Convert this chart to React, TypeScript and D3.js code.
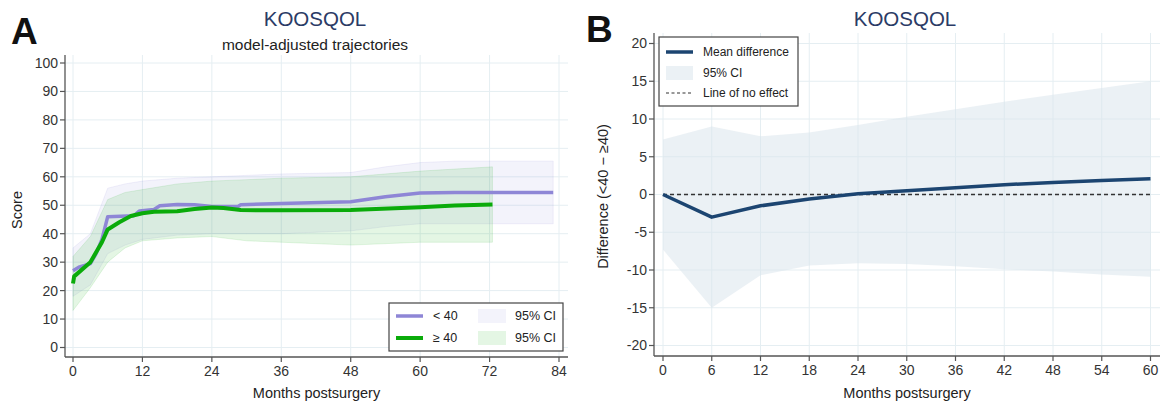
import React from "react";
import * as d3 from "d3";

// Panel A: model-adjusted trajectories
const ltMonths = [0, 1, 3, 4, 5, 6, 10.5, 11.5, 14, 15, 18, 21, 24, 28.5, 29, 36, 48, 54, 60, 66, 83];
const ltScore = [27, 28.2, 29.5, 33, 38, 46, 46.3, 48, 48.5, 49.8, 50.3, 50.2, 49.6, 49.6, 50.2, 50.6, 51.2, 53, 54.3, 54.5, 54.5];
const geMonths = [0, 0.2, 3, 5, 6, 8, 10, 12, 14, 18, 21, 24, 26, 29, 36, 48, 60, 66, 72.5];
const geScore = [22.5, 25, 30, 37, 41.5, 44, 46.2, 47.2, 47.7, 47.9, 48.7, 49.2, 49, 48.3, 48.2, 48.3, 49.3, 49.9, 50.3];

const ltCiMonths = [0, 3, 6, 9, 12, 18, 24, 30, 36, 48, 54, 60, 66, 83];
const ltCiHigh = [35, 40, 56, 57.5, 58.5, 59.5, 60, 60.5, 61, 61.5, 63.5, 65, 65.5, 65.5];
const ltCiLow = [18, 22, 33, 36, 38, 39.5, 40, 40, 40, 41, 42.5, 43.5, 43.5, 43.5];
const geCiMonths = [0, 3, 6, 9, 12, 18, 24, 30, 36, 48, 60, 72.5];
const geCiHigh = [32, 39, 52, 54.5, 55.5, 57.5, 58.5, 59, 59.5, 60, 62, 63.5];
const geCiLow = [13, 21, 30, 35, 37.5, 38.5, 39, 37.5, 37, 36, 37, 37];

const xTicksA = [0, 12, 24, 36, 48, 60, 72, 84];
const yTicksA = [0, 10, 20, 30, 40, 50, 60, 70, 80, 90, 100];

// Panel B: difference (<40 - >=40)
const diffMonths = [0, 6, 12, 18, 24, 30, 36, 42, 48, 54, 60];
const diffMean = [0, -3, -1.5, -0.6, 0.1, 0.5, 0.9, 1.3, 1.6, 1.85, 2.1];
const diffHigh = [7.3, 9, 7.7, 8.2, 9.2, 10.3, 11.3, 12.3, 13.2, 14.1, 15];
const diffLow = [-7.3, -15, -10.7, -9.4, -9.1, -9.2, -9.5, -9.9, -10.2, -10.6, -10.9];

const xTicksB = [0, 6, 12, 18, 24, 30, 36, 42, 48, 54, 60];
const yTicksB = [20, 15, 10, 5, 0, -5, -10, -15, -20];

const FONT = "'Liberation Sans', Arial, sans-serif";
const GRID = "#e5eef2";
const AXIS = "#555";
const PURPLE = "#8e86d6";
const GREEN = "#0aab0a";
const NAVY = "#1c4571";
const TITLE = "#2b3b66";

const zip = (xs: number[], ys: number[]) => xs.map((x, i) => [x, ys[i]] as [number, number]);
const zip3 = (xs: number[], lo: number[], hi: number[]) => xs.map((x, i) => ({ x, lo: lo[i], hi: hi[i] }));

function Grid({ x, y, xTicks, yTicks, left, top, right, bottom }: any) {
  return (
    <g>
      {yTicks.map((t: number) => (
        <line key={"gy" + t} x1={left} x2={right} y1={y(t)} y2={y(t)} stroke={GRID} strokeWidth={1} />
      ))}
      {xTicks.map((t: number) => (
        <line key={"gx" + t} x1={x(t)} x2={x(t)} y1={top} y2={bottom} stroke={GRID} strokeWidth={1} />
      ))}
    </g>
  );
}

function AxisLines({ x, y, xTicks, yTicks, left, top, right, bottom, fmt }: any) {
  return (
    <g fontFamily={FONT} fontSize={14} fill="#333">
      <line x1={left} x2={left} y1={top} y2={bottom} stroke={AXIS} strokeWidth={1.3} />
      <line x1={left} x2={right} y1={bottom} y2={bottom} stroke={AXIS} strokeWidth={1.3} />
      {yTicks.map((t: number) => (
        <g key={"ty" + t}>
          <line x1={left - 5} x2={left} y1={y(t)} y2={y(t)} stroke={AXIS} strokeWidth={1.2} />
          <text x={left - 7} y={y(t)} dy="0.35em" textAnchor="end">{fmt(t)}</text>
        </g>
      ))}
      {xTicks.map((t: number) => (
        <g key={"tx" + t}>
          <line x1={x(t)} x2={x(t)} y1={bottom} y2={bottom + 5} stroke={AXIS} strokeWidth={1.2} />
          <text x={x(t)} y={bottom + 19} textAnchor="middle">{t}</text>
        </g>
      ))}
    </g>
  );
}

export default function App() {
  // panel A geometry
  const aL = 65, aT = 55, aR = 568, aB = 357;
  const xA = d3.scaleLinear().domain([0, 84]).range([73, 559]);
  const yA = d3.scaleLinear().domain([0, 100]).range([347.5, 63]);

  // panel B geometry
  const bL = 654, bT = 33, bR = 1160, bB = 356;
  const xB = d3.scaleLinear().domain([0, 60]).range([663, 1150.5]);
  const yB = d3.scaleLinear().domain([-20, 20]).range([345.5, 43.5]);

  const lineA = d3.line<[number, number]>().x((d) => xA(d[0])).y((d) => yA(d[1]));
  const areaA = d3
    .area<{ x: number; lo: number; hi: number }>()
    .x((d) => xA(d.x))
    .y0((d) => yA(d.lo))
    .y1((d) => yA(d.hi));
  const lineB = d3.line<[number, number]>().x((d) => xB(d[0])).y((d) => yB(d[1]));
  const areaB = d3
    .area<{ x: number; lo: number; hi: number }>()
    .x((d) => xB(d.x))
    .y0((d) => yB(d.lo))
    .y1((d) => yB(d.hi));

  const fmtB = (t: number) => (t < 0 ? "-" + Math.abs(t) : String(t));

  return (
    <svg
      width={1163}
      height={407}
      style={{ position: "absolute", left: 0, top: 0, background: "#fff" }}
      fontFamily={FONT}
    >
      <rect width={1163} height={407} fill="#fff" />

      {/* ---------- Panel A ---------- */}
      <text x={11} y={44} fontSize={37} fontWeight="bold" fill="#111">A</text>
      <text x={315} y={26} fontSize={20.5} fill={TITLE} textAnchor="middle">KOOSQOL</text>
      <text x={315} y={50} fontSize={15.5} fill="#222" textAnchor="middle">model-adjusted trajectories</text>

      <Grid x={xA} y={yA} xTicks={xTicksA} yTicks={yTicksA} left={aL} top={aT} right={aR} bottom={aB} />

      <path d={areaA(zip3(ltCiMonths, ltCiLow, ltCiHigh)) || ""} fill={PURPLE} fillOpacity={0.1} stroke={PURPLE} strokeOpacity={0.12} />
      <path d={areaA(zip3(geCiMonths, geCiLow, geCiHigh)) || ""} fill={GREEN} fillOpacity={0.11} stroke={GREEN} strokeOpacity={0.1} />
      <path d={lineA(zip(ltMonths, ltScore)) || ""} fill="none" stroke={PURPLE} strokeWidth={3.5} strokeLinejoin="round" />
      <path d={lineA(zip(geMonths, geScore)) || ""} fill="none" stroke={GREEN} strokeWidth={4} strokeLinejoin="round" />

      <AxisLines x={xA} y={yA} xTicks={xTicksA} yTicks={yTicksA} left={aL} top={aT} right={aR} bottom={aB} fmt={String} />

      <text
        transform={`translate(22,${(aT + aB) / 2 + 4}) rotate(-90)`}
        textAnchor="middle"
        fontSize={14.5}
        fill="#222"
      >
        Score
      </text>
      <text x={(aL + aR) / 2} y={398} textAnchor="middle" fontSize={14.5} fill="#222">Months postsurgery</text>

      {/* legend A */}
      <g fontSize={12.5} fill="#222">
        <rect x={389} y={303} width={174} height={48} fill="#fff" stroke="#444" strokeWidth={1.2} />
        <line x1={396} x2={423} y1={316} y2={316} stroke={PURPLE} strokeWidth={3.5} />
        <text x={433} y={316} dy="0.35em">{"< 40"}</text>
        <rect x={478} y={309} width={28} height={14} fill={PURPLE} fillOpacity={0.1} />
        <text x={515} y={316} dy="0.35em">95% CI</text>
        <line x1={396} x2={423} y1={338} y2={338} stroke={GREEN} strokeWidth={4} />
        <text x={433} y={338} dy="0.35em">{"≥ 40"}</text>
        <rect x={478} y={331} width={28} height={14} fill={GREEN} fillOpacity={0.11} />
        <text x={515} y={338} dy="0.35em">95% CI</text>
      </g>

      {/* ---------- Panel B ---------- */}
      <text x={586} y={42} fontSize={37} fontWeight="bold" fill="#111">B</text>
      <text x={905} y={26} fontSize={20.5} fill={TITLE} textAnchor="middle">KOOSQOL</text>

      <Grid x={xB} y={yB} xTicks={xTicksB} yTicks={yTicksB} left={bL} top={bT} right={bR} bottom={bB} />

      <path d={areaB(zip3(diffMonths, diffLow, diffHigh)) || ""} fill="#d7e4ec" fillOpacity={0.5} />
      <line x1={xB(0)} x2={xB(60)} y1={yB(0)} y2={yB(0)} stroke="#333" strokeWidth={1.3} strokeDasharray="4,3" />
      <path d={lineB(zip(diffMonths, diffMean)) || ""} fill="none" stroke={NAVY} strokeWidth={3.5} strokeLinejoin="round" />

      <AxisLines x={xB} y={yB} xTicks={xTicksB} yTicks={yTicksB} left={bL} top={bT} right={bR} bottom={bB} fmt={fmtB} />

      <text
        transform={`translate(608,${(bT + bB) / 2 + 2}) rotate(-90)`}
        textAnchor="middle"
        fontSize={14.5}
        fill="#222"
      >
        {"Difference (<40 − ≥40)"}
      </text>
      <text x={(bL + bR) / 2} y={398} textAnchor="middle" fontSize={14.5} fill="#222">Months postsurgery</text>

      {/* legend B */}
      <g fontSize={12} fill="#222">
        <rect x={659} y={37} width={139} height={69} fill="#fff" stroke="#444" strokeWidth={1.2} />
        <line x1={666} x2={693} y1={52} y2={52} stroke={NAVY} strokeWidth={3.5} />
        <text x={703} y={52} dy="0.35em">Mean difference</text>
        <rect x={666} y={66} width={27} height={14} fill="#d7e4ec" fillOpacity={0.5} />
        <text x={703} y={73} dy="0.35em">95% CI</text>
        <line x1={666} x2={693} y1={93} y2={93} stroke="#333" strokeWidth={1.2} strokeDasharray="3,2.5" />
        <text x={703} y={93} dy="0.35em">Line of no effect</text>
      </g>
    </svg>
  );
}
